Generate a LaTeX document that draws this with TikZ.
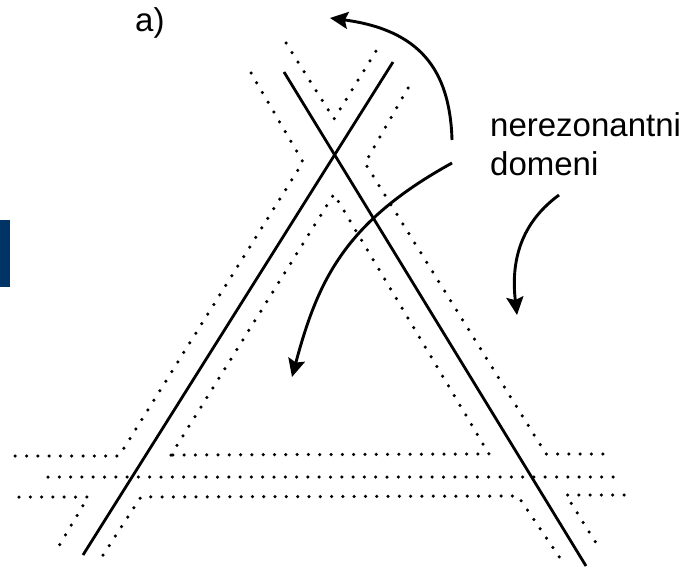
\documentclass[tikz,border=0pt]{standalone}
\usepackage{fontspec}
\setmainfont{Liberation Sans}
\usetikzlibrary{arrows.meta}
\definecolor{barblue}{RGB}{0,51,102}
\begin{document}
\begin{tikzpicture}[x=1pt,y=-1pt,
  solidline/.style={line width=2.8pt},
  dotline/.style={line width=3.5pt,line cap=round,dash pattern=on 0pt off 11.3pt},
  curvearrow/.style={line width=2.9pt,-{Stealth[length=18pt,width=17pt,inset=3pt]}},
  lbl/.style={inner sep=0pt,anchor=base west,font=\fontsize{33}{38}\selectfont}]
\useasboundingbox (0,0) rectangle (690,570);
% blue bar
\fill[barblue] (0,220) rectangle (10,287);
% solid lines
\coordinate (A1) at (83,555); \coordinate (A2) at (393,62);
\coordinate (B1) at (284,72); \coordinate (B2) at (586,566);
\draw[solidline] (A1) -- (A2);
\draw[solidline] (B1) -- (B2);
% dotted boundaries
\draw[dotline] (286,43) -- (334,119) -- (381,43);
\draw[dotline] (251,73) -- (303,162) -- (119,456) -- (13,456);
\draw[dotline] (408,88) -- (365,163) -- (546,454) -- (613,454);
\draw[dotline] (171,455) -- (334,194) -- (489,454) -- cycle;
\draw[dotline] (48,477) -- (613,477);
\draw[dotline] (19,497) -- (88,497) -- (56,551);
\draw[dotline] (103,555) -- (141,497) -- (518,496) -- (564,564);
\draw[dotline] (624,495) -- (566,495) -- (601,551);
% labels
\node[lbl] (lblA) at (135,31.7) {a)};
\node[lbl] (lbl1) at (490,136.7) {nerezonantni};
\node[lbl] (lbl2) at (490,175) {domeni};
% arrows
\coordinate (s1) at (452,140); \coordinate (t1) at (330,18);
\coordinate (s2) at (452,163); \coordinate (t2) at (292,377);
\coordinate (s3) at (559,195); \coordinate (t3) at (517,315);
\draw[curvearrow] (s1) .. controls (450,70) and (420,30) .. (t1);
\draw[curvearrow] (s2) .. controls (345,222) and (318,280) .. (t2);
\draw[curvearrow] (s3) .. controls (525,220) and (510,255) .. (t3);
\end{tikzpicture}
\end{document}
